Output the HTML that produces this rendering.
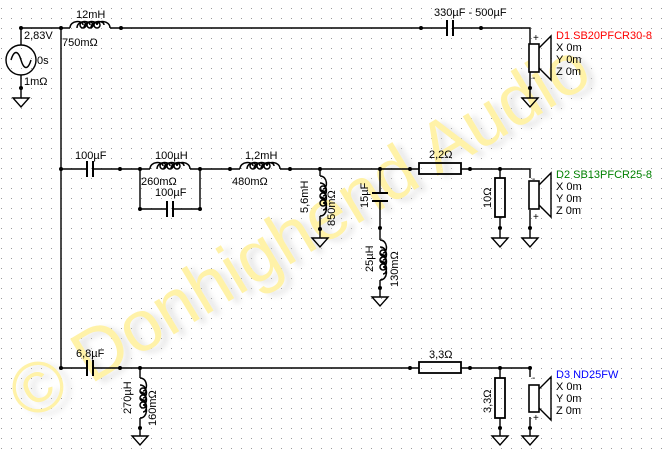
<!DOCTYPE html>
<html><head><meta charset="utf-8"><style>
html,body{margin:0;padding:0;background:#fff}
svg{display:block}
text{font-family:"Liberation Sans",sans-serif;font-size:11px;fill:#000}
</style></head><body>
<svg width="665" height="454" viewBox="0 0 665 454" xmlns="http://www.w3.org/2000/svg">
<defs>
<pattern id="g" x="1" y="8" width="10" height="10" patternUnits="userSpaceOnUse">
<rect x="0" y="0" width="1" height="1" fill="#9a9a9a"/></pattern>
<g id="gnd"><path d="M-8,0 H8 L0,9 Z" fill="none" stroke="#000" stroke-width="1.4"/></g>
<g id="lh">
<path d="M-20,0 C-20,-8 -7,-8 -7,-3 M-13,0 C-13,-8 0,-8 0,-3 M-6,0 C-6,-8 7,-8 7,-3 M1,0 C1,-8 14,-8 14,-3 M7,-3 C7,-8 20,-8 20,0" fill="none" stroke="#000" stroke-width="1.5"/>
<circle cx="-7" cy="-3" r="3" fill="none" stroke="#000" stroke-width="1.5"/>
<circle cx="0" cy="-3" r="3" fill="none" stroke="#000" stroke-width="1.5"/>
<circle cx="7" cy="-3" r="3" fill="none" stroke="#000" stroke-width="1.5"/>
</g>
<filter id="bl"><feGaussianBlur stdDeviation="3"/></filter>
</defs>
<rect width="665" height="454" fill="url(#g)"/>
<!-- watermark -->
<g transform="translate(28,422) rotate(-31)">
<text x="5" y="6" style="font-size:72px;fill:#d0d0d0;opacity:0.5" filter="url(#bl)">© Donhighend Audio</text>
<text x="0" y="0" style="font-size:72px;fill:#fff2a8">© Donhighend Audio</text>
</g>
<g stroke="#000" stroke-width="1.4" fill="none">
<path d="M21,28 H70 M110,28 H447 M453,28 H530 V44 M530,72 V98"/>
<path d="M61,28 V368"/>
<path d="M21,28 V45 M21,75 V98"/>
<circle cx="21" cy="60" r="15"/>
<path d="M11,60 C14,50 18,50 21,60 C24,70 28,70 31,60"/>
<path d="M447,20 V36 M453,20 V36" stroke-width="2"/>
<rect x="529" y="44" width="10" height="28" stroke-width="1.6" fill="#fff"/>
<path d="M539,48 L551,36 V80 L539,68"/>
<path d="M61,169 H87 M93,169 H150 M190,169 H240 M280,169 H410 M410,169 H419 M461,169 H530 V178 M530,210 V238"/>
<path d="M87,161 V177 M93,161 V177 M167,201 V217 M173,201 V217" stroke-width="2"/>
<path d="M140,169 V209 H167 M173,209 H200 V169"/>
<rect x="419" y="163" width="42" height="11" stroke-width="1.8"/>
<path d="M320,169 V176 M320,216 V238"/>
<path d="M380,169 V193 M380,201 V240 M380,280 V297"/>
<path d="M372,193 H388 M372,201 H388" stroke-width="2"/>
<path d="M500,169 V178 M500,217 V238"/>
<rect x="495" y="178" width="10" height="39" stroke-width="1.8"/>
<rect x="529" y="181" width="10" height="28" stroke-width="1.6" fill="#fff"/>
<path d="M539,185 L551,173 V217 L539,205"/>
<path d="M61,368 H87 M93,368 H419 M461,368 H530 V377 M530,417 V436"/>
<path d="M87,360 V376 M93,360 V376" stroke-width="2"/>
<rect x="419" y="362" width="42" height="11" stroke-width="1.8"/>
<path d="M140,368 V378 M140,418 V436"/>
<path d="M500,368 V378 M500,418 V436"/>
<rect x="495" y="378" width="10" height="40" stroke-width="1.8"/>
<rect x="529" y="385" width="10" height="27" stroke-width="1.6" fill="#fff"/>
<path d="M539,389 L551,377 V420 L539,408"/>
</g>
<use href="#lh" x="90" y="28"/>
<use href="#lh" x="170" y="169"/>
<use href="#lh" x="260" y="169"/>
<use href="#lh" transform="translate(320,196) rotate(90)"/>
<use href="#lh" transform="translate(380,260) rotate(90)"/>
<use href="#lh" transform="translate(140,398) rotate(90)"/>
<use href="#gnd" x="21" y="98"/>
<use href="#gnd" x="530" y="98"/>
<use href="#gnd" x="320" y="238"/>
<use href="#gnd" x="380" y="297"/>
<use href="#gnd" x="500" y="238"/>
<use href="#gnd" x="530" y="238"/>
<use href="#gnd" x="140" y="436"/>
<use href="#gnd" x="500" y="436"/>
<use href="#gnd" x="530" y="436"/>
<g fill="#000">
<circle cx="21" cy="28" r="2"/><circle cx="61" cy="28" r="2"/><circle cx="121" cy="28" r="2"/>
<circle cx="21" cy="88" r="2"/><circle cx="421" cy="28" r="2"/><circle cx="481" cy="28" r="2"/><circle cx="530" cy="88" r="2"/>
<circle cx="61" cy="169" r="2"/><circle cx="120" cy="169" r="2"/><circle cx="140" cy="169" r="2"/><circle cx="200" cy="169" r="2"/>
<circle cx="140" cy="209" r="2"/><circle cx="200" cy="209" r="2"/>
<circle cx="230" cy="169" r="2"/><circle cx="290" cy="169" r="2"/><circle cx="320" cy="169" r="2"/><circle cx="380" cy="169" r="2"/>
<circle cx="320" cy="229" r="2"/><circle cx="380" cy="228" r="2"/><circle cx="380" cy="288" r="2"/>
<circle cx="410" cy="169" r="2"/><circle cx="470" cy="169" r="2"/><circle cx="500" cy="169" r="2"/>
<circle cx="500" cy="228" r="2"/><circle cx="530" cy="228" r="2"/>
<circle cx="61" cy="368" r="2"/><circle cx="120" cy="368" r="2"/><circle cx="140" cy="368" r="2"/><circle cx="140" cy="428" r="2"/>
<circle cx="410" cy="368" r="2"/><circle cx="470" cy="368" r="2"/><circle cx="500" cy="368" r="2"/><circle cx="530" cy="368" r="2"/>
<circle cx="500" cy="428" r="2"/><circle cx="530" cy="428" r="2"/>
</g>
<text x="76" y="18">12mH</text>
<text x="62" y="46">750mΩ</text>
<text x="24" y="39">2,83V</text>
<text x="37" y="64">0s</text>
<text x="24" y="85">1mΩ</text>
<text x="434" y="16">330µF - 500µF</text>
<text x="533" y="41" style="font-size:10px">+</text>
<text x="532" y="81" style="font-size:10px">-</text>
<text x="556" y="39" style="fill:#ff0000">D1 SB20PFCR30-8</text>
<text x="556" y="51">X 0m</text>
<text x="556" y="63">Y 0m</text>
<text x="556" y="75">Z 0m</text>
<text x="75" y="159">100µF</text>
<text x="155" y="159">100µH</text>
<text x="141" y="185">260mΩ</text>
<text x="155" y="196">100µF</text>
<text x="245" y="159">1,2mH</text>
<text x="232" y="185">480mΩ</text>
<text transform="translate(308,213) rotate(-90)">5,6mH</text>
<text transform="translate(335,226) rotate(-90)">850mΩ</text>
<text transform="translate(368,208) rotate(-90)">15µF</text>
<text transform="translate(373,272) rotate(-90)">25µH</text>
<text transform="translate(398,287) rotate(-90)">130mΩ</text>
<text x="429" y="158">2,2Ω</text>
<text transform="translate(491,208) rotate(-90)">10Ω</text>
<text x="532" y="182" style="font-size:10px">-</text>
<text x="533" y="220" style="font-size:10px">+</text>
<text x="556" y="178" style="fill:#008000">D2 SB13PFCR25-8</text>
<text x="556" y="190">X 0m</text>
<text x="556" y="202">Y 0m</text>
<text x="556" y="214">Z 0m</text>
<text x="76" y="357">6,8µF</text>
<text transform="translate(131,414) rotate(-90)">270µH</text>
<text transform="translate(156,426) rotate(-90)">160mΩ</text>
<text x="429" y="358">3,3Ω</text>
<text transform="translate(491,413) rotate(-90)">3,3Ω</text>
<text x="532" y="381" style="font-size:10px">-</text>
<text x="533" y="421" style="font-size:10px">+</text>
<text x="556" y="378" style="fill:#0000ff">D3 ND25FW</text>
<text x="556" y="390">X 0m</text>
<text x="556" y="402">Y 0m</text>
<text x="556" y="414">Z 0m</text>
</svg>
</body></html>
